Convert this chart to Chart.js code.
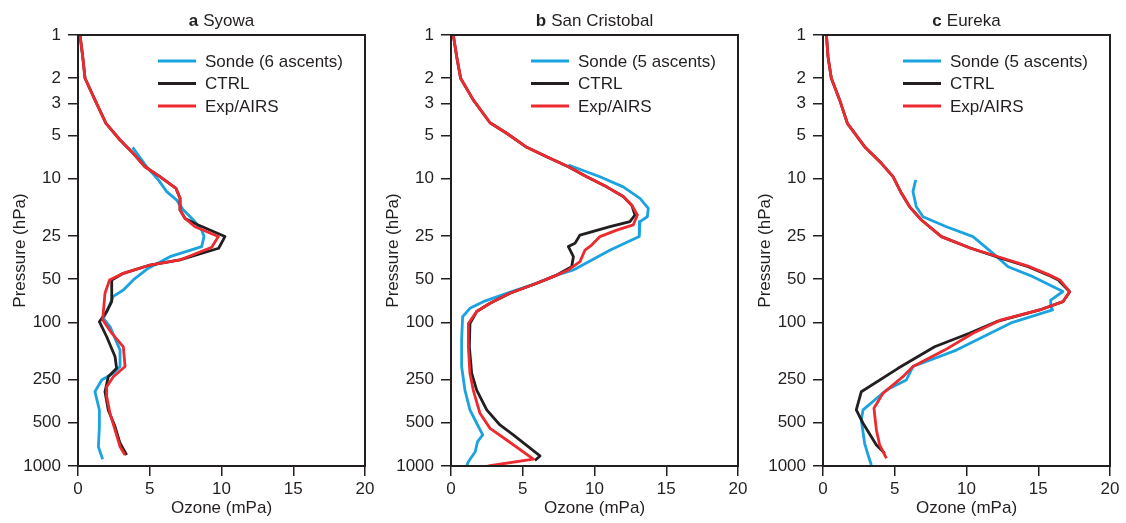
<!DOCTYPE html>
<html><head><meta charset="utf-8">
<script src="https://cdn.jsdelivr.net/npm/chart.js@4/dist/chart.umd.min.js"></script>
<style>
html,body{margin:0;padding:0;background:#fff;width:1126px;height:523px;overflow:hidden;}
.p{position:absolute;top:0;height:523px;}
canvas{display:block;}
</style></head><body>
<div class="p" style="left:0px;width:380px"><canvas id="c0" width="380" height="523"></canvas></div>
<div class="p" style="left:373px;width:380px"><canvas id="c1" width="380" height="523"></canvas></div>
<div class="p" style="left:745px;width:381px"><canvas id="c2" width="381" height="523"></canvas></div>
<script>
// ---- tick labels / categories ----
const pressureTicks = [1, 2, 3, 5, 10, 25, 50, 100, 250, 500, 1000];
const ozoneTicks = [0, 5, 10, 15, 20];
const panelLetters = ['a', 'b', 'c'];
const stationNames = ['Syowa', 'San Cristobal', 'Eureka'];
const sondeLabels = ['Sonde (6 ascents)', 'Sonde (5 ascents)', 'Sonde (5 ascents)'];
const modelLabels = ['CTRL', 'Exp/AIRS'];

// ---- Syowa ----
const syowaSondeO3 = [3.81, 4.78, 5.6, 6.18, 6.88, 7.34, 8.04, 8.62, 8.78, 8.62, 6.41, 4.9, 3.85, 3.16, 2.46, 2.0, 1.77, 2.23, 2.93, 2.93, 2.46, 1.65, 1.18, 1.49, 1.49, 1.42, 1.72];
const syowaSondeP  = [6.05, 8.26, 10.2, 12.3, 14.1, 16.5, 19.4, 22.8, 25.3, 29.7, 34.9, 42, 50.7, 59.6, 66, 84, 94, 107, 156, 203, 226, 252, 304, 407, 532, 734, 898];
const syowaCtrlO3 = [0.14, 0.33, 0.49, 1.18, 1.95, 2.93, 3.74, 4.67, 5.71, 6.83, 7.11, 7.11, 7.46, 8.38, 10.24, 9.8, 7.1, 5.02, 3.16, 2.35, 2.35, 2.35, 2.0, 1.49, 2.0, 2.58, 2.69, 2.11, 1.88, 2.11, 2.58, 2.93, 3.39];
const syowaCtrlP  = [1.0, 1.42, 2.0, 2.83, 4.12, 5.38, 6.49, 8.26, 9.69, 11.7, 13.7, 16.5, 18.9, 21.0, 25.3, 30.5, 36.8, 39.9, 45.6, 50.7, 62.8, 71.8, 84.3, 99, 126, 173, 209, 239, 304, 407, 532, 695, 838];
const syowaExpO3 = [0.14, 0.33, 0.49, 1.18, 1.95, 2.93, 3.74, 4.67, 5.71, 6.83, 7.11, 7.11, 7.46, 8.15, 9.78, 9.32, 7.1, 5.02, 3.16, 2.2, 1.88, 1.77, 1.72, 2.35, 3.16, 3.28, 2.46, 2.0, 2.0, 2.23, 2.58, 2.93, 3.28];
const syowaExpP  = [1.0, 1.42, 2.0, 2.83, 4.12, 5.38, 6.49, 8.26, 9.69, 11.7, 13.7, 16.5, 18.9, 21.6, 25.3, 30.0, 36.8, 39.9, 45.6, 50.7, 62.8, 84, 96, 119, 148, 203, 239, 281, 329, 430, 561, 734, 838];

// ---- San Cristobal ----
const sanCSondeO3 = [8.18, 10.38, 12.0, 13.17, 13.75, 13.68, 13.17, 13.12, 11.1, 8.53, 7.37, 5.97, 3.88, 2.25, 1.32, 0.81, 0.74, 0.74, 0.97, 1.32, 1.79, 2.21, 1.85, 1.69, 1.21, 1.09];
const sanCSondeP  = [8.03, 9.69, 11.4, 13.7, 16.1, 18.4, 19.9, 25.3, 31.4, 43.2, 46.9, 53.5, 62.8, 71.8, 79.9, 91.4, 133, 203, 296, 407, 504, 608, 677, 795, 933, 1000];
const sanCCtrlO3 = [0.16, 0.4, 0.67, 1.55, 2.72, 3.88, 5.28, 6.67, 8.18, 9.46, 10.85, 12.0, 12.6, 12.82, 12.47, 11.08, 8.99, 8.64, 8.18, 8.53, 8.41, 7.37, 5.97, 4.11, 2.72, 1.79, 1.32, 1.28, 1.44, 1.79, 2.49, 3.41, 4.34, 6.2, 5.85];
const sanCCtrlP  = [1.0, 1.42, 2.0, 2.83, 4.08, 4.83, 6.05, 7.03, 8.26, 9.69, 11.4, 13.3, 15.3, 17.9, 19.9, 21.6, 24.7, 28.2, 29.7, 34.9, 41, 46.9, 53.5, 62.8, 73.7, 84, 102, 148, 226, 296, 407, 518, 608, 851, 915];
const sanCExpO3 = [0.16, 0.4, 0.67, 1.55, 2.72, 3.88, 5.28, 6.67, 8.18, 9.46, 10.85, 12.0, 12.6, 12.99, 12.7, 11.55, 10.38, 9.8, 9.34, 8.99, 8.18, 7.37, 5.97, 4.11, 2.72, 1.79, 1.21, 1.21, 1.32, 1.55, 2.02, 2.72, 3.88, 5.74, 2.6];
const sanCExpP  = [1.0, 1.42, 2.0, 2.83, 4.08, 4.83, 6.05, 7.03, 8.26, 9.69, 11.4, 13.3, 15.3, 17.9, 21.0, 22.8, 25.3, 29, 31.4, 37.8, 43.2, 46.9, 53.5, 62.8, 73.7, 84, 102, 148, 226, 296, 430, 547, 659, 895, 1000];

// ---- Eureka ----
const eurekaSondeO3 = [6.46, 6.27, 6.5, 6.97, 8.6, 10.45, 11.85, 12.9, 14.63, 16.72, 15.87, 15.87, 16.0, 13.1, 9.3, 6.27, 5.81, 4.42, 2.79, 2.67, 2.9, 3.14, 3.37];
const eurekaSondeP  = [10.2, 12.3, 15.7, 18.4, 21.6, 25.3, 33.1, 41, 48.1, 61, 70, 78, 82, 101, 156, 203, 252, 296, 407, 478, 695, 838, 985];
const eurekaCtrlO3 = [0.24, 0.35, 0.58, 1.16, 1.7, 2.9, 4.07, 4.88, 5.46, 6.04, 6.86, 8.25, 10.3, 12.4, 14.3, 15.7, 16.4, 17.19, 16.72, 15.1, 12.08, 10.2, 7.78, 5.23, 2.67, 2.32, 2.79, 3.72, 4.3];
const eurekaCtrlP  = [1.0, 1.42, 2.0, 2.83, 4.12, 5.99, 7.82, 9.69, 12.6, 15.7, 19.4, 25.3, 30.5, 35.8, 41, 46.9, 50.7, 61.2, 71.8, 82, 99, 119, 148, 209, 304, 407, 504, 714, 815];
const eurekaExpO3 = [0.24, 0.35, 0.58, 1.16, 1.7, 2.9, 4.07, 4.88, 5.46, 6.04, 6.86, 8.25, 10.3, 12.54, 14.4, 15.8, 16.5, 17.19, 16.72, 15.1, 12.43, 10.45, 8.48, 6.27, 5.57, 4.18, 3.55, 3.72, 3.95, 4.42];
const eurekaExpP  = [1.0, 1.42, 2.0, 2.83, 4.12, 5.99, 7.82, 9.69, 12.6, 15.7, 19.4, 25.3, 30.5, 35.8, 41, 46.9, 50.7, 61.2, 71.8, 82, 96, 119, 156, 203, 239, 312, 396, 561, 714, 884];

const panels = [
  [[syowaSondeO3, syowaSondeP], [syowaCtrlO3, syowaCtrlP], [syowaExpO3, syowaExpP]],
  [[sanCSondeO3, sanCSondeP], [sanCCtrlO3, sanCCtrlP], [sanCExpO3, sanCExpP]],
  [[eurekaSondeO3, eurekaSondeP], [eurekaCtrlO3, eurekaCtrlP], [eurekaExpO3, eurekaExpP]]
];

const INK = '#231f20';
const COLORS = ['#1ba3e0', '#231f20', '#ec2a2f'];
const FONT = '"Liberation Sans", Arial, sans-serif';
Chart.defaults.font.family = FONT;
Chart.defaults.font.size = 17;
Chart.defaults.color = INK;

function toPoints(o3, p) { return o3.map((v, i) => ({x: v, y: p[i]})); }

const framePlugin = {
  id: 'frame',
  afterDraw(chart, args, opts) {
    const {ctx, chartArea: a} = chart;
    ctx.save();
    ctx.strokeStyle = INK; ctx.lineWidth = 2;
    ctx.strokeRect(a.left, a.top, a.right - a.left, a.bottom - a.top);
    // title: bold panel letter + station name
    ctx.fillStyle = INK;
    ctx.textBaseline = 'alphabetic';
    ctx.textAlign = 'left';
    const bold = 'bold 17px ' + FONT, norm = '17px ' + FONT;
    ctx.font = bold; const w1 = ctx.measureText(opts.letter).width;
    ctx.font = norm; const w2 = ctx.measureText(opts.name).width;
    const gap = 5;
    const x0 = (a.left + a.right) / 2 - (w1 + gap + w2) / 2;
    ctx.font = bold; ctx.fillText(opts.letter, x0, 26);
    ctx.font = norm; ctx.fillText(opts.name, x0 + w1 + gap, 26);
    // legend
    ctx.textBaseline = 'middle';
    chart.data.datasets.forEach((ds, i) => {
      const yy = a.top + 26 + i * 22.5;
      ctx.strokeStyle = ds.borderColor; ctx.lineWidth = 3;
      ctx.beginPath(); ctx.moveTo(a.left + 80, yy); ctx.lineTo(a.left + 118, yy); ctx.stroke();
      ctx.fillStyle = INK; ctx.fillText(ds.label, a.left + 127, yy + 1);
    });
    ctx.restore();
  }
};

panels.forEach((series, k) => {
  const labels = [sondeLabels[k], modelLabels[0], modelLabels[1]];
  const datasets = series.map((s, i) => ({
    label: labels[i],
    data: toPoints(s[0], s[1]),
    showLine: true,
    borderColor: COLORS[i],
    backgroundColor: COLORS[i],
    borderWidth: 2.8,
    pointRadius: 0,
    tension: 0,
    borderJoinStyle: 'round',
    order: 3 - i
  }));
  const rightPad = (k === 2) ? 16 : 15;
  new Chart(document.getElementById('c' + k), {
    type: 'scatter',
    data: {datasets},
    options: {
      responsive: false,
      animation: false,
      events: [],
      layout: {padding: {top: 35, right: rightPad, bottom: 0, left: 0}},
      plugins: {
        legend: {display: false},
        tooltip: {enabled: false},
        frame: {letter: panelLetters[k], name: stationNames[k]}
      },
      scales: {
        x: {
          type: 'linear', min: 0, max: 20,
          afterBuildTicks(sc) { sc.ticks = ozoneTicks.map(v => ({value: v})); },
          afterFit(sc) { sc.height = 57; sc.paddingLeft = 0; sc.paddingRight = 0; },
          ticks: {padding: 3, callback: v => String(v), maxRotation: 0},
          grid: {drawOnChartArea: false, drawTicks: true, tickLength: 10, color: INK, lineWidth: 1.5},
          border: {display: true, color: INK, width: 2},
          title: {display: true, text: 'Ozone (mPa)', padding: {top: 0, bottom: 4}}
        },
        y: {
          type: 'logarithmic', min: 1, max: 1000, reverse: true,
          afterBuildTicks(sc) { sc.ticks = pressureTicks.map(v => ({value: v})); },
          afterFit(sc) { sc.width = 78; sc.paddingTop = 0; sc.paddingBottom = 0; },
          ticks: {padding: 7, callback: v => String(v)},
          grid: {drawOnChartArea: false, drawTicks: true, tickLength: 10, color: INK, lineWidth: 1.5},
          border: {display: true, color: INK, width: 2},
          title: {display: true, text: 'Pressure (hPa)', padding: {top: 10, bottom: 0}}
        }
      }
    },
    plugins: [framePlugin]
  });
});
</script>
</body></html>
